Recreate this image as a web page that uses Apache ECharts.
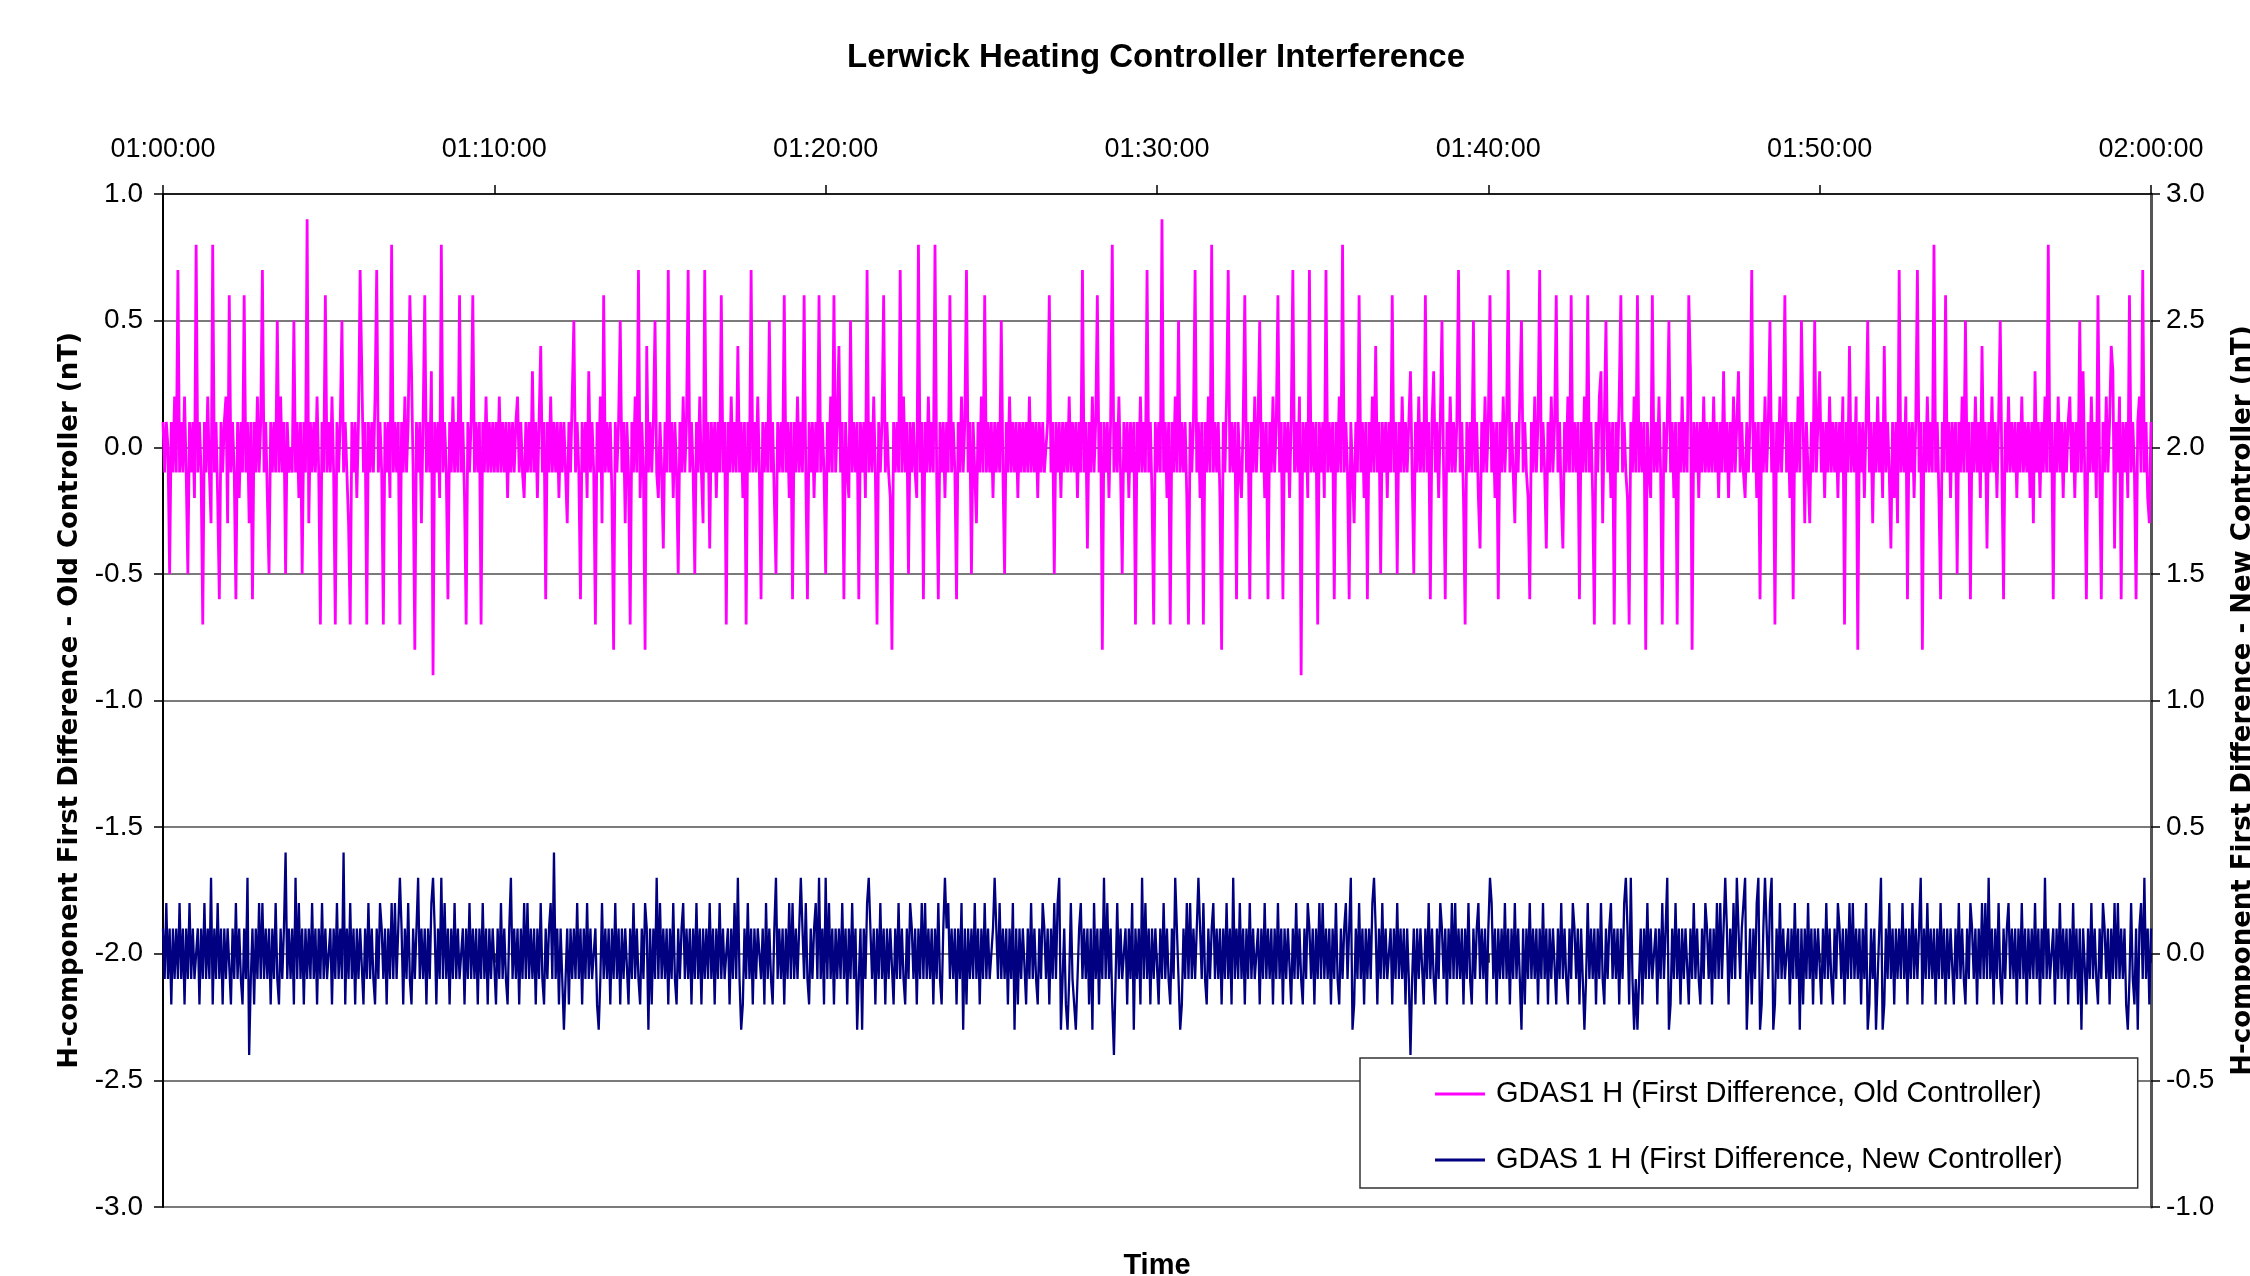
<!DOCTYPE html>
<html>
<head>
<meta charset="utf-8">
<script src="https://cdn.jsdelivr.net/npm/echarts@6/dist/echarts.min.js"></script>
<style>
html,body{margin:0;padding:0;background:#fff;overflow:hidden;}
#main{width:2250px;height:1276px;}
</style>
</head>
<body>
<div id="main"></div>
<script>
const chartTitle = 'Lerwick Heating Controller Interference';
const xAxisTitle = 'Time';
const leftAxisTitle = 'H-component First Difference - Old Controller (nT)';
const rightAxisTitle = 'H-component First Difference - New Controller (nT)';
const seriesNames = ['GDAS1 H (First Difference, Old Controller)', 'GDAS 1 H (First Difference, New Controller)'];
const timeTickLabels = ['01:00:00','01:10:00','01:20:00','01:30:00','01:40:00','01:50:00','02:00:00'];
const sampleStepSeconds = 3;

// GDAS1 H first difference, old controller (nT), one value every 3 s from 01:00:00
const oldControllerValues = [
.1,-.1,.1,0,-.5,.1,-.1,.2,-.1,.7,-.1,.1,-.1,.2,-.1,-.5,.1,-.1,.1,-.2,
.8,-.1,.1,-.1,-.7,.1,-.1,.2,-.1,-.3,.8,-.1,.1,-.2,-.6,.1,-.1,.1,.2,-.3,
.6,-.1,.1,-.1,-.6,.1,-.2,.1,-.1,.6,-.1,.1,-.3,.1,-.6,.1,-.1,.2,-.1,.1,
.7,-.1,.1,-.2,-.5,.1,-.1,.1,-.1,.5,-.1,.2,-.1,.1,-.5,.1,-.1,0,-.1,.5,
-.1,.1,-.2,.1,-.5,.1,-.1,.9,-.3,.1,-.1,.1,-.1,.2,-.1,-.7,.1,-.1,.6,-.1,
.1,-.1,.2,-.1,-.7,.1,-.1,.1,.5,-.1,.1,-.1,-.3,-.7,.1,-.1,.1,-.2,.1,.7,
.3,-.1,.1,-.7,.1,-.1,.1,-.1,.2,.7,-.1,.1,-.1,-.7,.1,-.1,.1,-.2,.8,-.1,
.1,-.1,.1,-.7,.1,-.1,.2,-.1,.1,.6,.3,-.1,-.8,.1,-.1,.1,-.3,.1,.6,-.1,
.1,-.1,.3,-.9,.1,-.1,.1,-.2,.8,-.1,.1,-.1,-.6,.1,-.1,.2,-.1,.1,-.1,.6,
-.1,.1,-.2,-.7,.1,-.1,.1,.6,-.1,.1,-.1,.1,-.7,.1,-.1,.2,-.1,.1,-.1,.1,
-.1,.1,-.1,.2,-.1,.1,-.1,.1,-.2,.1,-.1,.1,-.1,.1,.2,-.1,.1,-.1,-.2,.1,
-.1,.1,-.1,.3,-.1,.1,-.2,.1,.4,-.1,.1,-.6,.1,-.1,.2,-.1,.1,-.1,.1,-.2,
.1,-.1,.1,-.1,-.3,.1,-.1,.2,.5,-.1,.1,-.1,-.6,.1,-.1,.1,-.2,.3,-.1,.1,
-.1,-.7,.1,-.1,.2,-.3,.6,-.1,.1,-.1,.1,-.2,-.8,.1,-.1,.1,.5,-.1,.1,-.3,
.1,-.1,-.7,.1,-.1,.2,-.1,.7,-.2,.1,-.1,-.8,.4,-.1,.1,-.1,.1,.5,-.1,-.2,
.1,-.1,-.4,.1,-.1,.7,-.1,.1,-.2,.1,-.1,-.5,.1,-.1,.2,-.1,.1,.7,-.1,.1,
-.1,-.5,.1,-.1,.2,-.1,-.3,.7,-.1,.1,-.4,.1,-.1,.1,-.2,.1,-.1,.6,-.1,.1,
-.7,.1,-.1,.2,-.1,.1,-.1,.4,-.1,.1,-.2,.1,-.7,.1,-.1,.7,-.1,.1,-.1,.2,
-.1,-.6,.1,-.1,.1,-.1,.5,-.1,.1,-.2,-.5,.1,-.1,.1,-.1,.6,-.1,.1,-.2,.1,
-.6,.1,-.1,.2,-.1,.1,-.1,.6,-.1,-.6,.1,-.1,.1,-.2,.1,-.1,.6,-.1,.1,-.1,
-.5,.1,-.1,.2,-.1,.6,-.1,.1,.4,-.1,.1,-.6,.1,-.1,-.2,.5,-.1,.1,-.1,.1,
-.6,.1,-.1,.1,-.2,.7,-.1,.1,-.1,.2,-.1,-.7,.1,-.1,.1,.6,-.1,.1,-.1,-.2,
-.8,.1,-.1,.1,-.1,.7,-.1,.2,-.1,.1,-.5,.1,-.1,.1,-.1,-.2,.8,-.1,.1,-.6,
.1,-.1,.2,-.1,.1,-.1,.8,-.1,-.6,.1,-.1,.1,-.2,.1,-.1,.6,-.1,.1,-.1,-.6,
.1,-.1,.2,-.1,.1,.7,-.1,.1,-.5,.1,-.1,-.3,.1,-.1,.2,-.1,.6,-.1,.1,-.1,
.1,-.2,.1,-.1,.1,-.1,.5,-.1,-.5,.1,-.1,.2,-.1,.1,-.1,.1,-.2,.1,-.1,.1,
-.1,.1,-.1,.2,-.1,.1,-.1,.1,-.2,.1,-.1,.1,-.1,0,.1,.6,-.1,.1,-.5,.1,
-.1,.1,-.2,.1,-.1,.1,-.1,.2,-.1,.1,-.1,.1,-.2,.1,-.1,.7,-.1,.1,-.4,.1,
-.1,.2,-.1,.1,.6,-.1,.1,-.8,.1,-.1,.1,-.2,.1,.8,-.1,.1,-.1,.2,-.1,-.5,
.1,-.1,.1,-.2,.1,-.1,.1,-.7,.1,-.1,.2,-.1,.1,-.1,.7,-.1,.1,-.2,-.7,.1,
-.1,.1,-.1,.9,-.1,.1,-.2,.1,-.7,.1,-.1,.2,-.1,.5,-.1,.1,-.1,.1,-.2,-.7,
.1,-.1,.1,.7,-.1,.1,-.2,.1,-.7,.1,-.1,.2,-.1,.8,-.1,.1,-.1,.1,-.2,-.8,
.1,-.1,.2,.7,-.1,.1,-.1,.1,-.6,.1,-.1,-.2,.1,.6,-.1,.1,-.6,.1,-.1,.2,
-.1,.1,.5,-.1,.1,-.2,.1,-.6,.1,-.1,.2,-.1,.1,.6,-.1,.1,-.6,.1,-.1,.1,
-.2,.1,.7,-.1,.1,-.1,.2,-.9,.1,-.1,.1,-.2,.7,-.1,.1,-.1,.1,-.7,.1,-.1,
.1,-.2,.7,-.1,.1,-.1,.1,-.6,.1,-.1,.2,-.1,.8,-.1,.1,-.1,-.6,.1,-.1,-.3,
.1,-.1,.6,-.1,.1,-.2,.1,-.6,.1,-.1,.2,-.1,.4,-.1,.1,-.5,.1,-.1,.1,-.2,
.1,-.1,.6,-.1,.1,-.5,.1,-.1,.2,-.1,.1,-.1,.1,.3,-.1,-.5,.1,-.1,.2,-.1,
.1,-.1,.6,-.1,.1,-.6,.1,.3,-.1,.1,-.2,.1,.5,-.1,-.6,.1,-.1,.2,-.1,.1,
-.1,.1,.7,-.1,.1,-.2,-.7,.1,-.1,.1,-.1,.5,-.1,.1,-.2,-.4,.1,-.1,.2,-.1,
.1,.6,-.1,.1,-.2,.1,-.6,.1,-.1,.2,-.1,.1,.7,-.1,.1,-.1,-.3,.1,-.1,.2,
.5,-.1,.1,-.1,-.2,-.6,.1,-.1,.2,-.1,.1,.7,-.1,.1,-.1,-.4,.1,-.1,.2,-.1,
.1,.6,-.1,.1,-.2,-.4,.1,-.1,.2,-.1,.6,-.1,.1,-.1,.1,-.6,.1,-.1,.2,-.1,
.6,-.1,.1,-.2,-.7,.1,-.1,.2,.3,-.3,.1,.5,-.1,.1,-.2,.1,-.7,.1,-.1,.2,
.6,-.1,.1,-.1,-.2,-.7,.1,-.1,.2,-.1,.6,-.1,.1,-.1,.1,-.8,.1,-.1,-.2,.6,
-.1,.1,-.1,.2,-.1,-.7,.1,-.1,.1,.5,-.1,.1,-.2,.1,-.7,.1,-.1,.2,-.1,.1,
-.1,.6,.3,-.8,.1,-.1,.1,-.2,.1,-.1,.2,-.1,.1,-.1,.1,-.1,.2,-.1,.1,-.2,
.1,-.1,.3,-.1,.1,-.2,.1,-.1,.2,-.1,.1,.3,-.1,.1,-.1,-.2,.1,-.1,.1,.7,
-.1,.1,-.2,.1,-.6,.1,-.1,.2,-.1,.1,.5,-.1,.1,-.7,.1,-.1,.2,-.1,.1,.6,
-.1,.1,-.2,.1,-.6,.1,-.1,.2,-.1,.5,.1,-.3,.1,-.1,-.3,.1,-.1,.5,-.1,.1,
.3,-.1,.1,-.2,.1,-.1,.2,-.1,.1,-.1,.1,-.2,.1,-.1,.2,-.7,.1,-.1,.4,-.1,
.1,-.1,.2,-.8,.1,-.1,.1,-.2,.1,.5,-.1,.1,-.3,.1,-.1,.2,-.1,.1,-.2,.4,
-.1,.1,-.1,-.4,.1,-.2,.1,-.3,.7,-.1,.1,-.1,.2,-.6,.1,-.1,.1,-.2,.1,.7,
-.1,.1,-.8,.1,-.1,.2,-.1,.1,-.1,.8,-.1,.1,-.2,-.6,.1,-.1,.6,-.1,.1,-.2,
.1,-.1,.1,-.5,.1,-.1,.2,-.1,.5,-.1,.1,-.6,.1,-.1,.2,-.1,.1,-.2,.4,-.1,
.1,-.4,.1,-.1,.2,-.1,.1,-.2,.1,.5,-.1,-.6,.1,-.1,.2,-.1,.1,-.1,.1,-.2,
.1,-.1,.2,-.1,.1,-.1,.1,-.2,.1,-.3,.3,-.1,.1,-.2,.1,-.1,.2,-.1,.8,-.1,
.1,-.6,.1,-.1,.2,-.1,.1,-.2,.1,-.1,.1,.2,-.1,.1,-.2,.1,-.1,.5,-.1,.3,
-.1,-.6,.1,-.1,.2,-.1,.1,-.2,.6,-.1,-.6,.1,-.1,.2,-.1,.1,.4,.3,-.4,.1,
-.1,.2,-.6,.1,-.1,.1,-.2,.6,-.1,.1,-.1,-.6,.1,.2,-.1,.7,-.1,.1,-.2,-.3,
.1
];

// GDAS 1 H first difference, new controller (nT), one value every 3 s from 01:00:00
const newControllerValues = [
.1,-.1,.2,-.1,.1,-.2,.1,-.1,.1,-.1,.2,-.1,.1,-.2,.1,-.1,.2,-.1,.1,-.1,
-.1,.1,-.2,.1,-.1,.2,-.1,.1,-.1,.3,-.2,.1,-.1,.2,-.1,.1,-.2,.1,-.1,.1,
.1,-.2,.1,-.1,.2,-.1,.1,-.1,-.2,.1,-.1,.3,-.4,-.1,.1,-.2,.1,-.1,.2,-.1,
.2,-.1,.1,-.1,.1,-.2,.1,-.1,.2,-.1,-.2,.1,-.1,.1,.4,-.1,.1,-.1,.1,-.2,
.3,-.1,.2,-.1,.1,-.2,.1,-.1,.1,-.1,.2,-.1,.1,-.2,.1,-.1,.2,-.1,.1,-.1,
-.1,.1,-.2,.1,-.1,.2,-.1,.1,-.1,.4,-.2,.1,-.1,.2,-.1,.1,-.2,.1,-.1,.1,
.1,-.2,.1,-.1,.2,-.1,.1,-.1,-.2,.1,-.1,.2,.1,-.1,.1,-.2,.1,-.1,.2,-.1,
.2,-.1,.1,.3,.1,-.2,.1,-.1,.2,-.1,-.2,.1,-.1,.1,.3,-.1,.1,-.1,.1,-.2,
.1,-.1,.2,.3,.1,-.2,.1,-.1,.3,-.1,.2,-.1,.1,-.2,.1,-.1,.2,-.1,.1,-.1,
-.1,.1,-.2,.1,-.1,.2,-.1,.1,-.1,.1,-.2,.1,-.1,.2,-.1,.1,-.2,.1,-.1,.1,
.1,-.2,.1,-.1,.2,-.1,.1,-.1,-.2,.1,.3,-.1,.1,-.1,.1,-.2,.1,-.1,.2,-.1,
.2,-.1,.1,-.1,.1,-.2,.1,-.1,.2,-.1,-.2,.1,-.1,.1,.2,-.1,.4,-.1,.1,-.2,
.1,-.1,-.3,-.1,.1,-.2,.1,-.1,.1,-.1,.2,-.1,.1,-.2,.1,-.1,.2,-.1,.1,-.1,
-.1,.1,-.2,-.3,-.1,.2,-.1,.1,-.1,.1,-.2,.1,-.1,.2,-.1,.1,-.2,.1,-.1,.1,
.1,-.2,.1,-.1,.2,-.1,.1,-.1,-.2,.1,-.1,.2,.1,-.3,.1,-.2,.1,-.1,.3,-.1,
.2,-.1,.1,-.1,.1,-.2,.1,-.1,.2,-.1,-.2,.1,-.1,.1,.2,-.1,.1,-.1,.1,-.2,
.1,-.1,.2,-.1,.1,-.2,.1,-.1,.1,-.1,.2,-.1,.1,-.2,.1,-.1,.2,-.1,.1,-.1,
-.1,.1,-.2,.1,-.1,.2,-.1,.3,-.1,-.3,-.2,.1,-.1,.2,-.1,.1,-.2,.1,-.1,.1,
.1,-.1,.1,-.2,.2,-.1,.1,-.1,-.2,.1,.3,-.1,.1,-.1,.1,-.2,.1,-.1,.2,-.1,
.2,-.1,.1,-.1,.1,.3,.1,-.1,.2,-.1,-.2,.1,-.1,.1,.2,-.1,.3,-.1,.1,-.2,
.3,-.1,.2,-.1,.1,-.2,.1,-.1,.1,-.1,.2,-.1,.1,-.2,.1,-.1,.2,-.1,.1,-.3,
-.1,.1,-.3,.1,-.1,.2,.3,.1,-.1,.1,-.2,.1,-.1,.2,-.1,.1,-.2,.1,-.1,.1,
.1,-.2,.1,-.1,.2,-.1,.1,-.1,-.2,.1,-.1,.2,.1,-.1,.1,-.2,.1,-.1,.2,-.1,
.2,-.1,.1,-.1,.1,-.2,.1,-.1,.2,-.1,-.2,.1,.3,.1,.2,-.1,.1,-.1,.1,-.2,
.1,-.1,.2,-.3,.1,-.2,.1,-.1,.1,-.1,.2,-.1,.1,-.2,.1,-.1,.2,-.1,.1,-.1,
-.1,.1,.3,.1,-.1,.2,-.1,.1,-.1,.1,-.2,.1,-.1,.2,-.3,.1,-.2,.1,-.1,.1,
.1,-.2,.1,-.1,.2,-.1,.1,-.1,-.2,.1,-.1,.2,.1,-.1,.1,-.2,.1,-.1,.2,-.1,
.2,.3,-.3,-.1,.1,-.2,-.3,-.1,.2,-.1,-.2,-.3,-.1,.1,.2,-.1,.1,-.1,.1,-.2,
.1,-.3,.2,-.1,.1,-.2,.1,-.1,.3,-.1,.2,-.1,.1,-.2,-.4,-.1,.2,-.1,.1,-.1,
-.1,.1,-.2,.1,-.1,.2,-.3,.1,-.1,.1,-.2,.3,-.1,.2,-.1,.1,-.2,.1,-.1,.1,
.1,-.2,.1,-.1,.2,-.1,.1,-.1,-.2,.1,-.1,.3,.1,-.1,-.3,-.2,.1,-.1,.2,-.1,
.2,-.1,.1,-.1,.1,.3,.1,-.1,.2,-.1,-.2,.1,-.1,.1,.2,-.1,.1,-.1,.1,-.2,
.1,-.1,.2,-.1,.1,-.2,.3,-.1,.1,-.1,.2,-.1,.1,-.2,.1,-.1,.2,-.1,.1,-.1,
-.1,.1,-.2,.1,-.1,.2,-.1,.1,-.1,.1,-.2,.1,-.1,.2,-.1,.1,-.2,.1,-.1,.1,
.1,-.2,.1,-.1,.2,-.1,.1,-.1,-.2,.1,-.1,.2,.1,-.1,.1,-.2,.1,-.1,.2,-.1,
.2,-.1,.1,-.1,.1,-.2,.1,-.1,.2,-.1,-.2,.1,-.1,.1,.2,-.1,.1,.3,-.3,-.2,
.1,-.1,.2,-.1,.1,-.2,.1,-.1,.1,-.1,.2,.3,.1,-.2,.1,-.1,.2,-.1,.1,-.1,
-.1,.1,-.2,.1,-.1,.2,-.1,.1,-.1,.1,-.2,.1,-.1,-.4,-.1,.1,-.2,.1,-.1,.1,
.1,-.2,.1,-.1,.2,-.1,.1,-.1,-.2,.1,-.1,.2,.1,-.1,.1,-.2,.1,-.1,.2,-.1,
.2,-.1,.1,-.1,.1,-.2,.1,-.1,.2,-.1,-.2,.1,-.1,.1,.2,-.1,.1,-.1,.1,-.2,
.1,.3,.2,-.1,.1,-.2,.1,-.1,.1,-.1,.2,-.1,.1,-.2,.1,-.1,.2,-.1,.1,-.1,
-.3,.1,-.2,.1,-.1,.2,-.1,.1,-.1,.1,-.2,.1,-.1,.2,-.1,.1,-.2,.1,-.1,.1,
.1,-.2,.1,-.1,.2,-.1,.1,-.1,-.2,.1,-.1,.2,.1,-.1,.1,-.2,.1,-.1,-.3,-.1,
.2,-.1,.1,-.1,.1,-.2,.1,-.1,.2,-.1,-.2,.1,-.1,.1,.2,-.1,.1,-.1,.1,-.2,
.1,-.1,.2,.3,.1,-.2,.3,-.1,-.3,-.1,-.3,-.1,.1,-.2,.1,-.1,.2,-.1,.1,-.1,
-.1,.1,-.2,.1,-.1,.2,-.1,.1,.3,-.3,-.2,.1,-.1,.2,-.1,.1,-.2,.1,-.1,.1,
.1,-.2,.1,-.1,.2,-.1,.1,-.1,-.2,.1,-.1,.2,.1,-.1,.1,-.2,.1,-.1,.2,-.1,
.2,-.1,.1,.3,.1,-.2,.1,-.1,.2,-.1,.3,.1,-.1,.1,.2,.3,-.3,-.1,.1,-.2,
.1,-.1,.2,.3,-.3,-.2,.1,.3,.1,-.1,.2,.3,-.3,-.2,.1,-.1,.2,-.1,.1,-.1,
-.1,.1,-.2,.1,-.1,.2,-.1,.1,-.3,.1,-.2,.1,-.1,.2,-.1,.1,-.2,.1,-.1,.1,
.1,-.2,.1,-.1,.2,-.1,.1,-.1,-.2,.1,-.1,.2,.1,-.1,.1,-.2,.1,-.1,.2,-.1,
.2,-.1,.1,-.1,.1,-.2,.1,-.1,.2,-.3,-.2,.1,-.1,.1,-.3,-.1,.1,.3,-.3,-.2,
.1,-.1,.2,-.1,.1,-.2,.1,-.1,.1,-.1,.2,-.1,.1,-.2,.1,-.1,.2,-.1,.1,-.1,
-.1,.3,-.2,.1,-.1,.2,-.1,.1,-.1,.1,-.2,.1,-.1,.2,-.1,.1,-.2,.1,-.1,.1,
.1,-.2,.1,-.1,.2,-.1,.1,-.1,-.2,.1,-.1,.2,.1,-.1,.1,-.2,.1,-.1,.2,-.1,
.2,-.1,.3,-.1,.1,-.2,.1,-.1,.2,-.1,-.2,.1,-.1,.1,.2,-.1,.1,-.1,.1,-.2,
.1,-.1,.2,-.1,.1,-.2,.1,-.1,.1,-.1,.2,-.1,.1,-.2,.1,-.1,.3,-.1,.1,-.1,
-.1,.1,-.2,.1,-.1,.2,-.1,.1,-.1,.1,-.2,.1,-.1,.2,-.1,.1,-.2,.1,-.3,.1,
.1,-.2,.1,-.1,.2,-.1,.1,-.1,-.2,.1,-.1,.2,.1,-.1,.1,-.2,.1,-.1,.2,-.1,
.2,-.1,.1,-.1,.1,-.2,-.3,-.1,.2,-.1,-.2,.1,-.3,.1,.2,-.1,.3,-.1,.1,-.2,
.1
];

const SANS = "'Liberation Sans', Arial, sans-serif";
const WIDE_BOLD = "'DejaVu Sans', 'Liberation Sans', sans-serif";

const oldData = oldControllerValues.map((v, i) => [i * sampleStepSeconds, v]);
const newData = newControllerValues.map((v, i) => [i * sampleStepSeconds, v]);

const chart = echarts.init(document.getElementById('main'), null, { renderer: 'canvas', width: 2250, height: 1276 });
chart.setOption({
  animation: false,
  backgroundColor: '#ffffff',
  title: {
    text: chartTitle,
    left: 1151,
    top: 36,
    textAlign: 'center',
    textStyle: { fontFamily: SANS, fontWeight: 'bold', fontSize: 33, color: '#000' }
  },
  grid: { left: 163, right: 99, top: 194, bottom: 69, containLabel: false, outerBoundsMode: 'none' },
  legend: {
    orient: 'vertical',
    left: 1360,
    top: 1058,
    padding: [18, 75, 10, 75],
    itemGap: 30,
    itemWidth: 50,
    itemHeight: 3,
    icon: 'rect',
    backgroundColor: '#ffffff',
    borderColor: '#333333',
    borderWidth: 1.5,
    textStyle: { fontFamily: SANS, fontSize: 29, color: '#000', lineHeight: 36, padding: [0, 0, 0, 6] },
    data: seriesNames
  },
  xAxis: [
    {
      type: 'value', position: 'top', min: 0, max: 3600, interval: 600,
      axisLine: { show: true, onZero: false, lineStyle: { color: '#000', width: 1.5 } },
      axisTick: { show: true, length: 9, lineStyle: { color: '#000', width: 1.5 } },
      axisLabel: {
        formatter: v => timeTickLabels[Math.round(v / 600)],
        fontFamily: SANS, fontSize: 27, color: '#000', margin: 31,
        showMinLabel: true, showMaxLabel: true
      },
      splitLine: { show: false }
    },
    {
      type: 'value', position: 'bottom', min: 0, max: 3600,
      axisLine: { show: false }, axisTick: { show: false }, axisLabel: { show: false },
      splitLine: { show: false },
      name: xAxisTitle, nameLocation: 'middle', nameGap: 44,
      nameTextStyle: { fontFamily: SANS, fontWeight: 'bold', fontSize: 29, color: '#000' }
    },
    {
      type: 'value', position: 'top', min: 0, max: 3600, interval: 600,
      axisLine: { show: false }, axisLabel: { show: false }, splitLine: { show: false },
      axisTick: { show: true, inside: true, length: 9, lineStyle: { color: '#000', width: 1.5 } }
    }
  ],
  yAxis: [
    {
      type: 'value', position: 'left', min: -3, max: 1, interval: 0.5,
      axisLine: { show: true, onZero: false, lineStyle: { color: '#000', width: 2 } },
      axisTick: { show: true, length: 9, lineStyle: { color: '#000', width: 1.5 } },
      axisLabel: { formatter: v => v.toFixed(1), fontFamily: SANS, fontSize: 28, color: '#000', margin: 20 },
      splitLine: { show: true, lineStyle: { color: '#7a7a7a', width: 2 } },
      name: leftAxisTitle, nameLocation: 'middle', nameRotate: 90, nameGap: 80,
      nameTextStyle: { fontFamily: WIDE_BOLD, fontWeight: 'bold', fontSize: 26, color: '#000' }
    },
    {
      type: 'value', position: 'right', min: -1, max: 3, interval: 0.5,
      axisLine: { show: true, onZero: false, lineStyle: { color: '#555', width: 3 } },
      axisTick: { show: true, length: 9, lineStyle: { color: '#000', width: 1.5 } },
      axisLabel: { formatter: v => v.toFixed(1), fontFamily: SANS, fontSize: 28, color: '#000', margin: 15 },
      splitLine: { show: false },
      name: rightAxisTitle, nameLocation: 'middle', nameRotate: 90, nameGap: 79,
      nameTextStyle: { fontFamily: WIDE_BOLD, fontWeight: 'bold', fontSize: 26, color: '#000' }
    }
  ],
  series: [
    {
      name: seriesNames[0], type: 'line', xAxisIndex: 0, yAxisIndex: 0,
      data: oldData, symbol: 'none', showSymbol: false,
      lineStyle: { color: '#ff00ff', width: 2.8 }, itemStyle: { color: '#ff00ff' }
    },
    {
      name: seriesNames[1], type: 'line', xAxisIndex: 0, yAxisIndex: 1,
      data: newData, symbol: 'none', showSymbol: false,
      lineStyle: { color: '#000080', width: 2.3 }, itemStyle: { color: '#000080' }
    }
  ]
});
</script>
</body>
</html>
